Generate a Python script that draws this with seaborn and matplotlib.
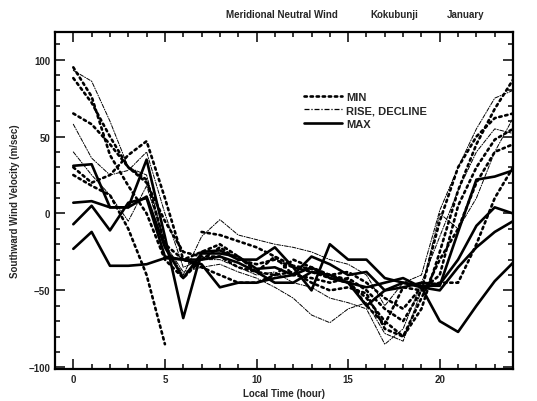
import numpy as np
import pandas as pd
import matplotlib
matplotlib.use("Agg")
import matplotlib.pyplot as plt
from matplotlib.lines import Line2D
from matplotlib.ticker import MultipleLocator
import seaborn as sns

# -----------------------
# data
# -----------------------
nan = np.nan
hours = list(range(25))

# MAX (solid)
max_a = [31, 32, 4, 4, 35, -15, -68, -25, -24, -30, -30, -22, -35, -50, -20, -30, -30, -42, -45, -47, -47, -12, 22, 24, 28]
max_b = [7, 8, 4, 4, 11, -22, -42, -26, -26, -28, -36, -35, -40, -28, -33, -40, -38, -50, -48, -45, -46, -30, -8, 4, 0]
max_c = [-7, 5, -11, 7, 10, -28, -30, -30, -28, -32, -38, -45, -45, -38, -40, -45, -60, -50, -45, -48, -50, -35, -22, -12, -5]
max_d = [-23, -12, -34, -34, -33, -29, -30, -33, -48, -45, -45, -42, -40, -35, -42, -45, -48, -45, -42, -48, -70, -77, -60, -44, -32]

# MIN (dotted)
min_a = [95, 76, 38, 18, 0, -30, -42, -30, -22, -30, -33, -30, -35, -38, -42, -45, -55, -70, -80, -62, -25, 15, 45, 68, 87]
min_b = [88, 72, 50, 30, 20, -5, -25, -28, -28, -35, -38, -28, -40, -42, -45, -42, -50, -62, -70, -50, -5, 30, 50, 62, 65]
min_c = [65, 58, 45, 30, 22, -20, -30, -25, -20, -28, -38, -40, -38, -45, -50, -48, -52, -75, -80, -55, -30, -10, 20, 40, 45]
min_d = [25, 18, 12, -10, -40, -85, nan, -12, -14, -18, -22, -28, -34, -36, -40, -43, -60, -72, -48, -50, -40, 5, 30, 48, 55]
min_e = [30, 20, 25, 38, 47, 10, -30, -35, -40, -45, -45, -40, -30, -35, -40, -38, -45, -55, -62, -48, -45, -45, -20, 10, 30]

# RISE, DECLINE (thin dash-dot)
rise_a = [93, 86, 60, 30, 25, -20, -40, -15, -4, -14, -17, -20, -22, -25, -30, -33, -40, -60, -45, -40, 2, 30, 55, 75, 80]
rise_b = [58, 36, 25, 28, 40, 0, -35, -30, -30, -35, -40, -38, -45, -48, -55, -58, -62, -85, -75, -45, -15, 15, 40, 55, 52]
rise_c = [40, 25, 12, -5, 18, -20, -38, -35, -33, -38, -42, -48, -55, -66, -71, -62, -58, -78, -83, -50, 0, -10, 10, 40, 62]

curves = {
    "max_a": ("MAX", max_a), "max_b": ("MAX", max_b),
    "max_c": ("MAX", max_c), "max_d": ("MAX", max_d),
    "min_a": ("MIN", min_a), "min_b": ("MIN", min_b), "min_c": ("MIN", min_c),
    "min_d": ("MIN", min_d), "min_e": ("MIN", min_e),
    "rise_a": ("RISE, DECLINE", rise_a), "rise_b": ("RISE, DECLINE", rise_b),
    "rise_c": ("RISE, DECLINE", rise_c),
}

# long table, a gap (nan) starts a new segment
rows = []
for name, (kind, vals) in curves.items():
    seg = 0
    for h, v in zip(hours, vals):
        if np.isnan(v):
            seg += 1
            continue
        rows.append({"hour": h, "vel": v, "kind": kind, "unit": f"{name}_{seg}"})
df = pd.DataFrame(rows)

# -----------------------
# plot
# -----------------------
sns.set_theme(style="ticks")
plt.rcParams["font.family"] = ["Liberation Sans", "DejaVu Sans"]

fig = plt.figure(figsize=(5.37, 4.02), dpi=100)
ax = fig.add_axes([0.1024, 0.080, 0.853, 0.838])

styles = {
    "MIN": dict(lw=1.9, dashes=(0.9, 1.4)),
    "RISE, DECLINE": dict(lw=0.7, dashes=(4, 1.5, 1, 1.5)),
    "MAX": dict(lw=1.9, dashes=None),
}
for kind in ["RISE, DECLINE", "MIN", "MAX"]:
    sub = df[df["kind"] == kind]
    st = styles[kind]
    sns.lineplot(data=sub, x="hour", y="vel", units="unit", estimator=None,
                 color="black", lw=st["lw"], ax=ax, legend=False, sort=False)
    if st["dashes"] is not None:
        for ln in ax.lines[-sub["unit"].nunique():]:
            ln.set_dashes(st["dashes"])
            ln.set_dash_capstyle("round")

ax.set_xlim(-1, 24)
ax.set_ylim(-101, 118)
ax.set_xticks([0, 5, 10, 15, 20])
ax.set_yticks([-100, -50, 0, 50, 100])
ax.xaxis.set_minor_locator(MultipleLocator(1))
ax.yaxis.set_minor_locator(MultipleLocator(10))
ax.tick_params(which="both", direction="in", top=True, right=True, width=1.3,
               labelsize=7)
ax.tick_params(which="major", length=7)
ax.tick_params(which="minor", length=3.5)
for lab in ax.get_xticklabels() + ax.get_yticklabels():
    lab.set_fontweight("bold")
for sp in ax.spines.values():
    sp.set_linewidth(1.6)
    sp.set_color("black")

ax.set_xlabel("Local Time (hour)", fontsize=7, fontweight="bold", labelpad=3)
ax.set_ylabel("Southward Wind Velocity (m/sec)", fontsize=7, fontweight="bold", labelpad=6)

handles = [
    Line2D([], [], color="black", lw=1.9, dashes=(0.9, 1.4), dash_capstyle="round"),
    Line2D([], [], color="black", lw=0.9, dashes=(4, 1.5, 1, 1.5)),
    Line2D([], [], color="black", lw=1.9),
]
leg = ax.legend(handles, ["MIN", "RISE, DECLINE", "MAX"], loc="upper left",
                bbox_to_anchor=(0.535, 0.835), frameon=False, handlelength=3.4,
                handletextpad=0.35, labelspacing=0.3, borderaxespad=0,
                prop={"size": 8, "weight": "bold"})

fig.text(0.42, 0.955, "Meridional Neutral Wind", fontsize=7, fontweight="bold")
fig.text(0.69, 0.955, "Kokubunji", fontsize=7, fontweight="bold")
fig.text(0.833, 0.955, "January", fontsize=7, fontweight="bold")

fig.savefig("out.png", dpi=100)
